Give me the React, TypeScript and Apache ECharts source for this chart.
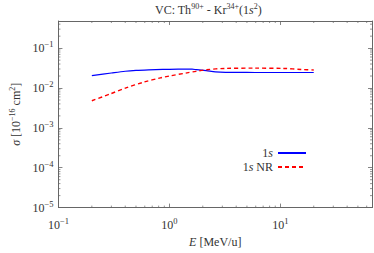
import React, { useEffect, useRef } from "react";
import * as echarts from "echarts";

const energy1s = [0.2, 0.3, 0.4, 0.5, 0.65, 0.87, 1.2, 1.6, 1.76, 2.15, 2.6, 3.2, 5, 7, 10, 14, 20];
const sigma1s = [0.0205, 0.0238, 0.0263, 0.0276, 0.0285, 0.0292, 0.0297, 0.0297, 0.0288, 0.0272, 0.0255, 0.0248, 0.0246, 0.0245, 0.0245, 0.0245, 0.0245];
const energyNR = [0.2, 0.29, 0.406, 0.586, 0.83, 1.0, 1.44, 1.74, 2.15, 3.2, 5.9, 10.7, 15.5, 20];
const sigmaNR = [0.0048, 0.00703, 0.0101, 0.014, 0.018, 0.02, 0.024, 0.0262, 0.0288, 0.031, 0.0315, 0.031, 0.0292, 0.0283];
const seriesNames = ["1s", "1s NR"];
const xRange = [0.1, 67];
const yRange = [1e-5, 0.48];

const FONT = "Liberation Serif";
const AXIS_COLOR = "#666";
const TXT = "#333";
const FS = 12;

function expLabel(v: number): string {
  const l = Math.log10(v);
  const r = Math.round(l);
  if (Math.abs(l - r) > 1e-6) return "";
  const s = r < 0 ? "\u2212" + Math.abs(r) : String(r);
  return "{b|10}{s|" + s + "}";
}

const labelRich = {
  b: { fontFamily: FONT, fontSize: FS, color: TXT },
  s: { fontFamily: FONT, fontSize: 8.5, color: TXT, verticalAlign: "bottom", padding: [0, 0, 8, 0] },
};

export default function App() {
  const ref = useRef<HTMLDivElement>(null);
  useEffect(() => {
    if (!ref.current) return;
    const chart = echarts.init(ref.current, null, { renderer: "svg" });
    const tickCommon = { show: true, inside: true, length: 4, lineStyle: { color: AXIS_COLOR, width: 0.8 } };
    const lineCommon = { show: true, lineStyle: { color: AXIS_COLOR, width: 1 } };
    const mkX = (pos: string, labels: boolean) => ({
      type: "log",
      logBase: 10,
      min: xRange[0],
      max: xRange[1],
      position: pos,
      axisLine: lineCommon,
      axisTick: tickCommon,
      splitLine: { show: false },
      axisLabel: labels
        ? { show: true, formatter: expLabel, rich: labelRich, margin: 9, showMaxLabel: false }
        : { show: false },
    });
    const mkY = (pos: string, labels: boolean) => ({
      type: "log",
      logBase: 10,
      min: yRange[0],
      max: yRange[1],
      position: pos,
      axisLine: lineCommon,
      axisTick: tickCommon,
      splitLine: { show: false },
      axisLabel: labels
        ? { show: true, formatter: expLabel, rich: labelRich, margin: 5, showMaxLabel: false }
        : { show: false },
    });
    const minorTicks = (params: any, api: any) => {
      const cs = params.coordSys;
      const children: any[] = [];
      const st = { stroke: AXIS_COLOR, lineWidth: 0.7 };
      const L = 2;
      for (let e = -2; e <= 2; e++) {
        for (let k = 2; k <= 9; k++) {
          const v = k * Math.pow(10, e);
          if (v > xRange[0] && v < xRange[1]) {
            const px = api.coord([v, 0.01])[0];
            children.push({ type: "line", shape: { x1: px, y1: cs.y + cs.height, x2: px, y2: cs.y + cs.height - L }, style: st });
            children.push({ type: "line", shape: { x1: px, y1: cs.y, x2: px, y2: cs.y + L }, style: st });
          }
        }
      }
      for (let e = -6; e <= 0; e++) {
        for (let k = 2; k <= 9; k++) {
          const v = k * Math.pow(10, e);
          if (v > yRange[0] && v < yRange[1]) {
            const py = api.coord([1, v])[1];
            children.push({ type: "line", shape: { x1: cs.x, y1: py, x2: cs.x + L, y2: py }, style: st });
            children.push({ type: "line", shape: { x1: cs.x + cs.width, y1: py, x2: cs.x + cs.width - L, y2: py }, style: st });
          }
        }
      }
      return { type: "group", children };
    };
    const italic = { fontFamily: FONT, fontSize: FS, fontStyle: "italic", color: TXT };
    chart.setOption({
      animation: false,
      backgroundColor: "#fff",
      textStyle: { fontFamily: FONT },
      title: {
        text: "VC: Th{sup|90+} - Kr{sup|34+}(1{i|s}{sup|2})",
        left: 150,
        top: -3,
        textStyle: {
          fontFamily: FONT,
          fontSize: FS,
          fontWeight: "normal",
          color: TXT,
          rich: {
            sup: { fontFamily: FONT, fontSize: 8, color: TXT, verticalAlign: "bottom", padding: [0, 0, 7, 0] },
            i: italic,
          },
        },
      },
      grid: { left: 46, right: 2, top: 21, bottom: 33, containLabel: false },
      legend: {
        data: seriesNames,
        orient: "vertical",
        align: "right",
        right: 62,
        top: 142,
        itemWidth: 28,
        itemHeight: 14,
        itemGap: 2,
        itemStyle: { opacity: 0 },
        formatter: (n: string) => (n === "1s" ? "1{i|s}" : "1{i|s} NR"),
        textStyle: {
          fontFamily: FONT,
          fontSize: FS,
          color: TXT,
          rich: { i: italic },
        },
      },
      xAxis: [
        {
          ...mkX("bottom", true),
          name: "{i|E} [MeV/u]",
          nameLocation: "middle",
          nameGap: 24,
          nameTextStyle: {
            fontFamily: FONT,
            fontSize: FS,
            color: TXT,
            rich: { i: italic },
          },
        },
        mkX("top", false),
      ],
      yAxis: [
        {
          ...mkY("left", true),
          name: "{i|\u03c3} [10{s|\u221216} cm{s|2}]",
          nameLocation: "middle",
          nameGap: 31,
          nameTextStyle: {
            fontFamily: FONT,
            fontSize: FS,
            color: TXT,
            rich: {
              i: italic,
              s: { fontFamily: FONT, fontSize: 8, color: TXT, verticalAlign: "bottom", padding: [0, 0, 7, 0] },
            },
          },
        },
        mkY("right", false),
      ],
      series: [
        {
          name: seriesNames[0],
          type: "line",
          xAxisIndex: 0,
          yAxisIndex: 0,
          data: energy1s.map((e, i) => [e, sigma1s[i]]),
          symbol: "none",
          smooth: 0.3,
          lineStyle: { color: "#0000ff", width: 1.2 },
          itemStyle: { color: "#0000ff" },
        },
        {
          name: seriesNames[1],
          type: "line",
          xAxisIndex: 0,
          yAxisIndex: 0,
          data: energyNR.map((e, i) => [e, sigmaNR[i]]),
          symbol: "none",
          smooth: 0.3,
          lineStyle: { color: "#ff0000", width: 1.4, type: [4, 3] },
          itemStyle: { color: "#ff0000" },
        },
        {
          type: "custom",
          xAxisIndex: 0,
          yAxisIndex: 0,
          data: [[1, 0.01]],
          renderItem: minorTicks,
          silent: true,
          clip: false,
          z: 1,
        },
      ],
    } as any);
    return () => chart.dispose();
  }, []);
  return <div ref={ref} style={{ width: 374, height: 253, position: "absolute", left: 0, top: 0 }} />;
}
